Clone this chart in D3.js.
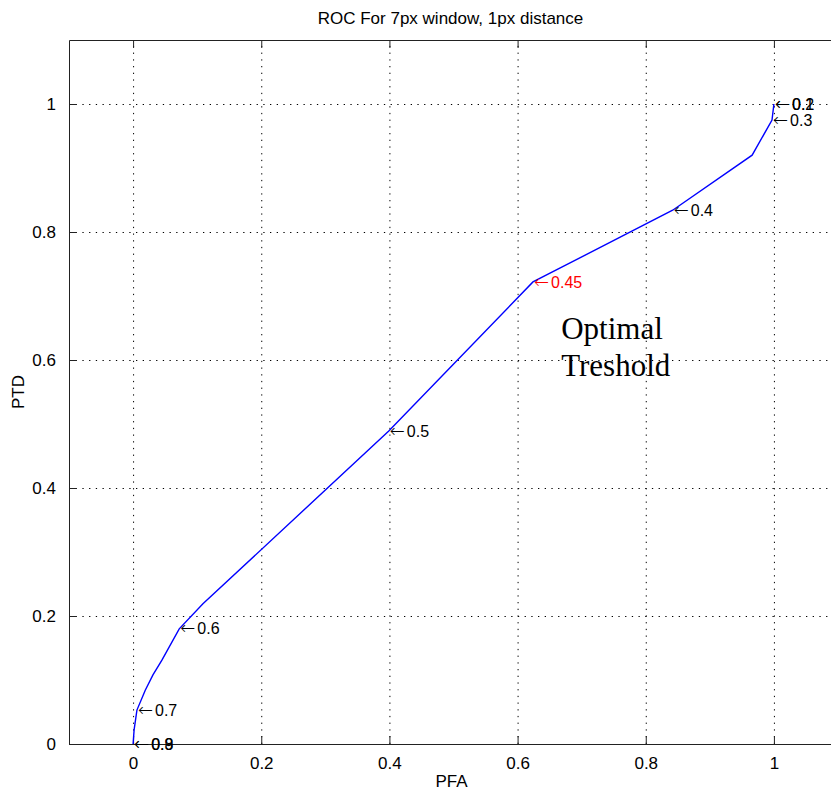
<!DOCTYPE html>
<html>
<head>
<meta charset="utf-8">
<script src="https://cdn.jsdelivr.net/npm/d3@7"></script>
<style>
  body { margin: 0; background: #fff; }
  svg { display: block; font-family: "Liberation Sans", Arial, sans-serif; }
</style>
</head>
<body>
<div id="chart"></div>
<script>
// curve points
const pfa = [0, 0.0016, 0.006, 0.019, 0.031, 0.045, 0.072, 0.109, 0.399, 0.624, 0.842, 0.966, 0.997, 1.0];
const ptd = [0, 0.022, 0.053, 0.084, 0.108, 0.131, 0.180, 0.219, 0.489, 0.722, 0.834, 0.920, 0.975, 1.0];

// threshold annotations
const thresholds = ["0.1", "0.2", "0.3", "0.4", "0.45", "0.5", "0.6", "0.7", "0.8", "0.9"];
const thrPfa = [1.0, 1.0, 0.997, 0.842, 0.624, 0.399, 0.072, 0.006, 0, 0];
const thrPtd = [1.0, 1.0, 0.975, 0.834, 0.722, 0.489, 0.180, 0.053, 0, 0];
const optimal = "0.45";

const xTicks = [0, 0.2, 0.4, 0.6, 0.8, 1];
const yTicks = [0, 0.2, 0.4, 0.6, 0.8, 1];
const xTickLabels = ["0", "0.2", "0.4", "0.6", "0.8", "1"];
const yTickLabels = ["0", "0.2", "0.4", "0.6", "0.8", "1"];

const noteLines = ["Optimal", "Treshold"];

const W = 831, H = 792;
const plotL = 69, plotT = 40, plotR = 838, plotB = 744;

const svg = d3.select("#chart").append("svg")
  .attr("width", W).attr("height", H);

const x = d3.scaleLinear().domain([-0.1, 1.1]).range([plotL, plotR]);
const y = d3.scaleLinear().domain([0, 1.1]).range([plotB, plotT]);

// dotted grid
svg.append("g")
  .attr("transform", `translate(0,${plotB})`)
  .call(d3.axisBottom(x).tickValues(xTicks).tickSize(-(plotB - plotT)).tickFormat(""))
  .call(g => g.select(".domain").remove())
  .call(g => g.selectAll("line").attr("stroke", "#000").attr("stroke-dasharray", "1.3,5.4"));
svg.append("g")
  .attr("transform", `translate(${plotL},0)`)
  .call(d3.axisLeft(y).tickValues(yTicks).tickSize(-(plotR - plotL)).tickFormat(""))
  .call(g => g.select(".domain").remove())
  .call(g => g.selectAll("line").attr("stroke", "#000").attr("stroke-dasharray", "1.3,5.4"));

// axes, ticks pointing inward
const axisColor = "#222";
const styleAxis = g => {
  g.select(".domain").attr("stroke", axisColor);
  g.selectAll(".tick line").attr("stroke", axisColor);
  g.selectAll("text").attr("fill", "#000").style("font-size", "17px")
    .style("font-family", "'Liberation Sans', Arial, sans-serif");
};
svg.append("g")
  .attr("transform", `translate(0,${plotB})`)
  .call(d3.axisBottom(x).tickValues(xTicks).tickSize(-8).tickSizeOuter(0).tickPadding(13)
    .tickFormat((d, i) => xTickLabels[i]))
  .call(styleAxis);
svg.append("g")
  .attr("transform", `translate(0,${plotT})`)
  .call(d3.axisTop(x).tickValues(xTicks).tickSize(-8).tickSizeOuter(0).tickFormat(""))
  .call(styleAxis);
svg.append("g")
  .attr("transform", `translate(${plotL},0)`)
  .call(d3.axisLeft(y).tickValues(yTicks).tickSize(-8).tickSizeOuter(0).tickPadding(13)
    .tickFormat((d, i) => yTickLabels[i]))
  .call(styleAxis);

// ROC curve
const pts = pfa.map((d, i) => [d, ptd[i]]);
svg.append("path")
  .datum(pts)
  .attr("fill", "none")
  .attr("stroke", "#0000ff")
  .attr("stroke-width", 1.4)
  .attr("d", d3.line().x(d => x(d[0])).y(d => y(d[1])));

// threshold labels (arrow + value, like matlab's \leftarrow)
const lbl = svg.append("g").selectAll("text")
  .data(thresholds)
  .join("text")
  .attr("x", (d, i) => x(thrPfa[i]) + 1)
  .attr("y", (d, i) => y(thrPtd[i]))
  .attr("dy", "0.35em")
  .attr("fill", d => d === optimal ? "#ff0000" : "#000");
lbl.append("tspan")
  .style("font-family", "'DejaVu Sans', sans-serif")
  .style("font-weight", "200")
  .style("font-size", "18px")
  .text("\u2190");
lbl.append("tspan")
  .attr("dx", 2)
  .style("font-size", "16px")
  .text(d => d);

// titles
svg.append("text")
  .attr("x", (plotL + plotR) / 2 - 3).attr("y", 24)
  .attr("text-anchor", "middle")
  .style("font-size", "17px")
  .text("ROC For 7px window, 1px distance");
svg.append("text")
  .attr("x", (plotL + plotR) / 2 - 2).attr("y", 787)
  .attr("text-anchor", "middle")
  .style("font-size", "17px")
  .text("PFA");
svg.append("text")
  .attr("transform", `translate(24,${(plotT + plotB) / 2}) rotate(-90)`)
  .attr("text-anchor", "middle")
  .style("font-size", "17px")
  .text("PTD");

// annotation
svg.append("g").selectAll("text")
  .data(noteLines)
  .join("text")
  .attr("x", x(0.668))
  .attr("y", (d, i) => y(0.633 - i * 0.058))
  .style("font-family", "'Liberation Serif', 'Times New Roman', serif")
  .style("font-size", "31px")
  .attr("fill", "#000")
  .text(d => d);
</script>
</body>
</html>
